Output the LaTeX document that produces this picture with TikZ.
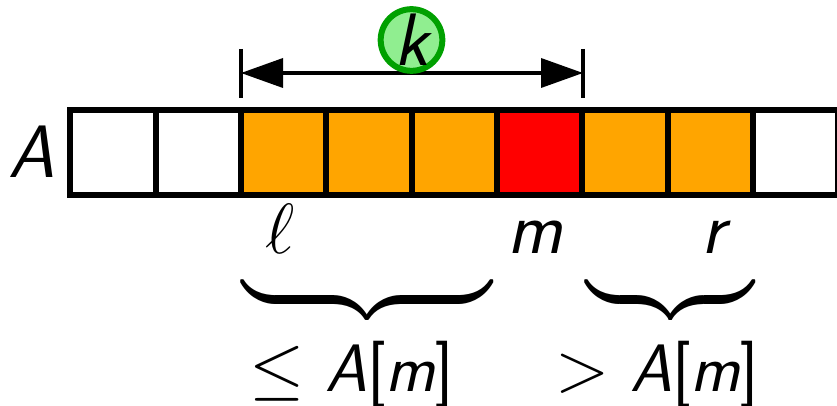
\documentclass[tikz,border=0pt]{standalone}
\usepackage{amssymb}
\usetikzlibrary{arrows.meta}
\definecolor{cellorange}{RGB}{255,165,0}
\definecolor{kgreen}{RGB}{0,160,0}
\definecolor{kfill}{RGB}{144,238,144}
\newcommand\labelsize{\fontsize{26}{31}\selectfont}
\newcommand\condsize{\fontsize{23.5}{28}\selectfont}
\newcommand\amval{{\itshape A}[{\itshape m}]}
\tikzset{
  cell/.style={draw, line width=2.1pt, minimum width=29.86pt, minimum height=29.6pt, inner sep=0pt},
  lbl/.style={font=\labelsize\sffamily\itshape, inner sep=0pt, anchor=base},
  cond/.style={font=\condsize\sffamily, inner sep=0pt, anchor=base},
}
\begin{document}
\begin{tikzpicture}[x=0.35pt,y=-0.35pt,font=\labelsize,>={Triangle[length=14.7pt,width=10.2pt]}]
	\useasboundingbox (0,0) rectangle (837,406);
	% the array
	\foreach \c [count=\i from 0] in {white,white,cellorange,cellorange,cellorange,red,cellorange,cellorange,white}
		\node[cell,fill=\c] (c\i) at ({113.15+85.3*\i},152.3) {};
	\node[lbl] (arrname) at (32,178) {A};
	% width k
	\coordinate (kl) at (241,73);
	\coordinate (kr) at (583,73);
	\draw[line width=1.1pt,<->] (kl) -- (kr);
	\draw[line width=1.1pt] (kl) ++(0,-24) -- ++(0,49);
	\draw[line width=1.1pt] (kr) ++(0,-24) -- ++(0,49);
	\node[circle,draw=kgreen,fill=kfill,line width=2.1pt,minimum size=20pt,inner sep=0pt,font=\labelsize\sffamily\itshape] (k) at (411.5,40) {k};
	% indices
	\node[anchor=base,inner sep=0pt] (lidx) at (280,254) {$\ell$};
	\node[lbl] (midx) at (535,254) {m};
	\node[lbl] (ridx) at (713,254) {r};
	% braces
	\node[anchor=north,inner sep=0pt] (lebrace) at (367,286) {$\underbrace{\hbox to 87.5pt{}}$};
	\node[anchor=north,inner sep=0pt] (gtbrace) at (670.5,286) {$\underbrace{\hbox to 58.5pt{}}$};
	\node[cond] (letxt) at (351.5,391) {$\le$ \amval};
	\node[cond] (gttxt) at (657,391) {$>$ \amval};
\end{tikzpicture}
\end{document}
